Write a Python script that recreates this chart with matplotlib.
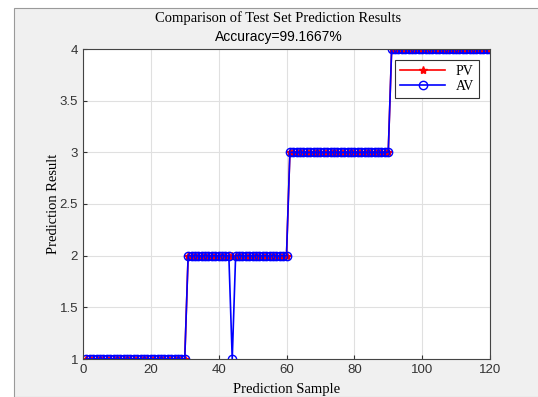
import numpy as np
import matplotlib
matplotlib.use("Agg")
import matplotlib.pyplot as plt
from matplotlib.patches import Rectangle

# class labels per block of 30 samples
samples = np.arange(1, 121)
pv = [1] * 30 + [2] * 30 + [3] * 30 + [4] * 30
av = list(pv)
av[43] = 1  # the one mis-matched sample (no. 44)

fig = plt.figure(figsize=(5.38, 3.97), dpi=100)
fig.patch.set_facecolor("white")
# MATLAB-ish grey figure area
fig.patches.append(Rectangle((14 / 538, 0), 1, (397 - 8) / 397, transform=fig.transFigure,
                             facecolor="#f0f0f0", edgecolor="#9a9a9a", linewidth=0.8, zorder=-5))

ax = fig.add_axes([83 / 538, 38 / 397, 407 / 538, 310 / 397])
ax.set_facecolor("white")

ax.plot(samples, pv, color="red", marker="*", markersize=6, linewidth=1.2, label="PV")
ax.plot(samples, av, color="blue", marker="o", markersize=6, markerfacecolor="none",
        markeredgewidth=1.0, linewidth=1.2, label="AV")

ax.set_xlim(0, 120)
ax.set_ylim(1, 4)
ax.set_xticks(range(0, 121, 20))
ax.set_yticks(np.arange(1, 4.01, 0.5))
ax.set_yticklabels(["1", "1.5", "2", "2.5", "3", "3.5", "4"])
ax.grid(True, color="#e0e0e0", linewidth=0.8)
ax.set_axisbelow(True)
ax.tick_params(direction="in", length=3, labelsize=9.5, colors="#333333", labelcolor="#333333")
for sp in ax.spines.values():
    sp.set_color("#444444")
    sp.set_linewidth(0.8)
for lbl in ax.get_xticklabels() + ax.get_yticklabels():
    lbl.set_family("Liberation Sans")

serif = "Liberation Serif"
ax.set_xlabel("Prediction Sample", family=serif, fontsize=10.5, labelpad=5)
ax.set_ylabel("Prediction Result", family=serif, fontsize=10.5, labelpad=0)
fig.text(278 / 538, 1 - 18 / 397, "Comparison of Test Set Prediction Results",
         family=serif, fontsize=10.5, ha="center", va="center")
fig.text(279 / 538, 1 - 37 / 397, "Accuracy=99.1667%",
         family="Liberation Sans", fontsize=10, ha="center", va="center")

leg = ax.legend(loc="upper right", bbox_to_anchor=(0.973, 0.965), borderaxespad=0,
                prop={"family": serif, "size": 10},
                fancybox=False, edgecolor="#333333", framealpha=1, handlelength=3.2,
                borderpad=0.35, labelspacing=0.15, handletextpad=0.8)
leg.get_frame().set_linewidth(0.8)

fig.savefig("out.png", dpi=100)
